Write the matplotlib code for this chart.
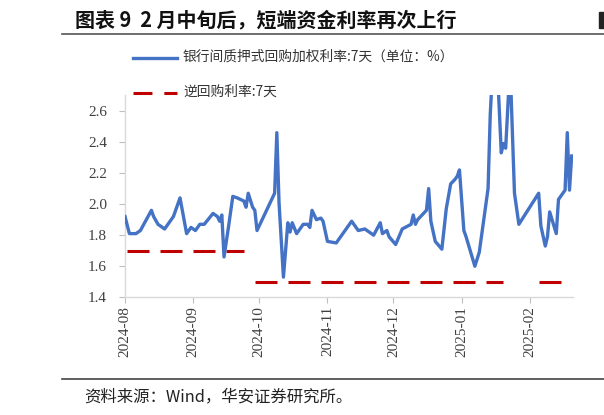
import matplotlib
matplotlib.use('Agg')
import matplotlib.pyplot as plt
import matplotlib.dates as mdates
from matplotlib.lines import Line2D
from matplotlib.patches import Rectangle
import numpy as np

plt.rcParams['font.family'] = ['Noto Sans CJK SC', 'DejaVu Sans']

# ---------------- data ----------------
blue_dates = ['2024-08-01', '2024-08-03', '2024-08-06', '2024-08-08', '2024-08-13', '2024-08-14',
              '2024-08-16', '2024-08-19', '2024-08-21', '2024-08-23', '2024-08-26', '2024-08-29',
              '2024-08-31', '2024-09-02', '2024-09-04', '2024-09-06', '2024-09-10', '2024-09-12',
              '2024-09-13', '2024-09-14', '2024-09-15', '2024-09-17', '2024-09-19', '2024-09-21',
              '2024-09-24', '2024-09-25', '2024-09-26', '2024-09-28', '2024-09-29', '2024-09-30',
              '2024-10-08', '2024-10-09', '2024-10-10', '2024-10-12', '2024-10-14', '2024-10-15',
              '2024-10-16', '2024-10-18', '2024-10-21', '2024-10-23', '2024-10-24', '2024-10-25',
              '2024-10-27', '2024-10-29', '2024-10-30', '2024-11-01', '2024-11-05', '2024-11-08',
              '2024-11-12', '2024-11-15', '2024-11-18', '2024-11-20', '2024-11-22', '2024-11-25',
              '2024-11-26', '2024-11-28', '2024-11-29', '2024-12-02', '2024-12-05', '2024-12-09',
              '2024-12-10', '2024-12-11', '2024-12-12', '2024-12-16', '2024-12-17', '2024-12-18',
              '2024-12-20', '2024-12-23', '2024-12-25', '2024-12-27', '2024-12-29', '2024-12-30',
              '2024-12-31', '2025-01-02', '2025-01-03', '2025-01-07', '2025-01-09', '2025-01-13',
              '2025-01-14', '2025-01-15', '2025-01-17', '2025-01-19', '2025-01-20', '2025-01-21',
              '2025-01-23', '2025-01-25', '2025-01-27', '2025-02-05', '2025-02-06', '2025-02-08',
              '2025-02-09', '2025-02-10', '2025-02-13', '2025-02-14', '2025-02-16', '2025-02-17',
              '2025-02-18', '2025-02-19', '2025-02-20']
blue_values = [1.92, 1.81, 1.81, 1.83, 1.96, 1.92,
               1.87, 1.84, 1.88, 1.92, 2.04, 1.81,
               1.85, 1.83, 1.87, 1.87, 1.94, 1.92,
               1.89, 1.93, 1.66, 1.85, 2.05, 2.04,
               2.02, 1.98, 2.07, 1.98, 1.96, 1.83,
               2.07, 2.46, 2.01, 1.53, 1.88, 1.82,
               1.88, 1.81, 1.87, 1.87, 1.85, 1.96,
               1.90, 1.91, 1.89, 1.76, 1.75, 1.81,
               1.89, 1.83, 1.84, 1.82, 1.80, 1.88,
               1.81, 1.83, 1.79, 1.74, 1.84, 1.87,
               1.93, 1.87, 1.90, 1.96, 2.10, 1.89,
               1.76, 1.71, 1.97, 2.13, 2.16, 2.18,
               2.22, 1.83, 1.79, 1.60, 1.69, 2.10,
               2.58, 2.85, 2.95, 2.33, 2.39, 2.36,
               2.90, 2.07, 1.87, 2.07, 1.86, 1.73,
               1.79, 1.95, 1.81, 2.03, 2.07, 2.09,
               2.46, 2.09, 2.31]

red_dates = ['2024-08-02', '2024-09-24', '2024-09-26', '2024-09-29', '2025-01-20',
             '2025-01-25', '2025-02-05', '2025-02-20']
red_values = [1.7, 1.7, np.nan, 1.5, 1.5, np.nan, 1.5, 1.5]

month_ticks = ['2024-08-01', '2024-09-01', '2024-10-01', '2024-11-01', '2024-12-01',
               '2025-01-01', '2025-02-01']
month_labels = ['2024-08', '2024-09', '2024-10', '2024-11', '2024-12', '2025-01', '2025-02']
y_ticks = [1.4, 1.6, 1.8, 2.0, 2.2, 2.4, 2.6]

title = '图表 9  2 月中旬后，短端资金利率再次上行'
legend_blue = '银行间质押式回购加权利率:7天（单位：%）'
legend_red = '逆回购利率:7天'
source = '资料来源：Wind，华安证券研究所。'

# ---------------- figure ----------------
W, H = 604, 415
fig = plt.figure(figsize=(W / 100, H / 100), dpi=100)


def fx(px):
    return px / W


def fy(py):
    return 1 - py / H


ax = fig.add_axes([fx(125), fy(297.3), fx(573) - fx(125), fy(95.4) - fy(297.3)])

bd = np.array(blue_dates, dtype='datetime64[D]')
rd = np.array(red_dates, dtype='datetime64[D]')
ax.plot(bd, blue_values, color='#4472C4', lw=2.4, solid_joinstyle='round', zorder=3)
ax.plot(rd, red_values, color='#C00000', lw=2.2, dashes=(7.2, 3.6), zorder=2)

x0 = mdates.date2num(np.datetime64('2024-08-01'))
ax.set_xlim(x0, x0 + 203.6)
ax.set_ylim(1.4, 2.7)

ax.set_xticks(mdates.date2num(np.array(month_ticks, dtype='datetime64[D]')))
ax.set_xticklabels(month_labels, rotation=90, family='Liberation Serif', fontsize=11,
                   color='#404040')
ax.set_yticks(y_ticks)
ax.set_yticklabels(['%.1f' % v for v in y_ticks], family='Liberation Serif', fontsize=11,
                   color='#404040')

ax.tick_params(axis='y', length=4, width=0.8, color='#BFBFBF', pad=9)
ax.tick_params(axis='x', length=4, width=0.8, color='#BFBFBF', pad=2)

for s in ['top', 'right']:
    ax.spines[s].set_visible(False)
for s in ['left', 'bottom']:
    ax.spines[s].set_color('#D9D9D9')
    ax.spines[s].set_linewidth(1.0)
ax.set_facecolor('none')

# title
fig.text(fx(75), fy(20), title, fontsize=14.4, fontweight='bold', color='#111111',
         va='center', ha='left')
fig.add_artist(Line2D([fx(62), fx(604)], [fy(34.5), fy(34.5)], color='#555555', lw=1.2))
fig.add_artist(Rectangle((fx(599), fy(28)), fx(5), 16 / H, color='#222222'))

# legend
fig.add_artist(Line2D([fx(133), fx(177)], [fy(58), fy(58)], color='#4472C4', lw=2.4))
fig.text(fx(183), fy(57), legend_blue, fontsize=9.9, color='#333333', va='center', ha='left')
fig.add_artist(Line2D([fx(133), fx(177)], [fy(93), fy(93)], color='#C00000', lw=2.2,
                      dashes=(6.2, 3.9)))
fig.text(fx(183), fy(92), legend_red, fontsize=9.9, color='#333333', va='center', ha='left')

# bottom rule and source
fig.add_artist(Line2D([fx(62), fx(604)], [fy(379), fy(379)], color='#444444', lw=1.2))
fig.text(fx(84), fy(397), source, fontsize=11.8, color='#222222', va='center', ha='left')

fig.savefig('out.png', dpi=100)
